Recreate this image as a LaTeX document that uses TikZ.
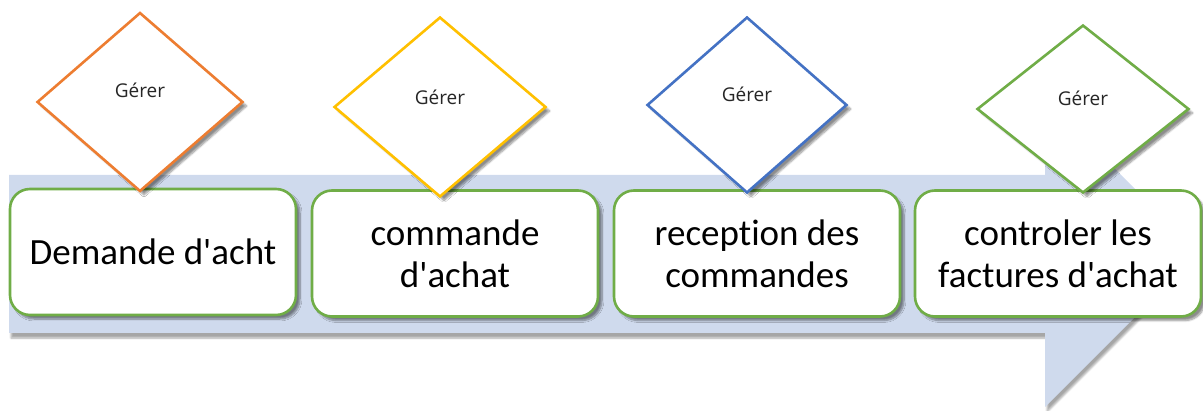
\documentclass[tikz,border=0pt]{standalone}
\usepackage{fontspec}
\setmainfont{Carlito}[Ligatures={CommonOff,TeXOff}]
\newfontfamily\gfont{Open Sans}
\usetikzlibrary{shapes.geometric,shadows.blur}
\definecolor{band}{HTML}{CFDAED}
\definecolor{gOrange}{HTML}{ED7D31}
\definecolor{gYellow}{HTML}{FFC000}
\definecolor{gBlue}{HTML}{4472C4}
\definecolor{gGreen}{HTML}{70AD47}
\tikzset{
  stepbox/.style={draw=gGreen, line width=2.6pt, fill=white, rounded corners=20pt,
    minimum width=286pt, minimum height=126pt, inner sep=0pt, align=center,
    font=\fontsize{37}{42}\selectfont,
    blur shadow={shadow xshift=4pt, shadow yshift=-4pt, shadow blur steps=8, shadow opacity=45}},
  gem/.style={draw=#1, line width=2.6pt, fill=white, shape=diamond, inner sep=0pt,
    blur shadow={shadow xshift=4pt, shadow yshift=-4pt, shadow blur steps=8, shadow opacity=45}},
  gtext/.style={font=\gfont\fontsize{19}{22}\selectfont, text=black!85, inner sep=0pt}
}
\begin{document}
\begin{tikzpicture}[x=1pt,y=-1pt]
\useasboundingbox (0,0) rectangle (1203,411);
% background arrow
\path[fill=band, blur shadow={shadow xshift=2pt, shadow yshift=-5pt, shadow blur steps=6, shadow opacity=35}]
  (9,175) -- (1045,175) -- (1045,99) -- (1199,253) -- (1045,407) -- (1045,333) -- (9,333) -- cycle;
% boxes
\node[stepbox] (b1) at (153,252) {Demande d'acht};
\node[stepbox] (b2) at (455,253.5) {commande\\d'achat};
\node[stepbox] (b3) at (757,253.5) {reception des\\commandes};
\node[stepbox] (b4) at (1058,253.5) {controler les\\factures d'achat};
% diamonds
\node[gem=gOrange, minimum width=206pt, minimum height=179pt] (d1) at (140,102) {};
\node[gem=gYellow, minimum width=212pt, minimum height=180pt] (d2) at (440,107) {};
\node[gem=gBlue, minimum width=200pt, minimum height=176pt] (d3) at (747,105) {};
\node[gem=gGreen, minimum width=212pt, minimum height=168pt] (d4) at (1083,109) {};
\node[gtext] (t1) at (140,90) {Gérer};
\node[gtext] (t2) at (440,97) {Gérer};
\node[gtext] (t3) at (747,94) {Gérer};
\node[gtext] (t4) at (1083,98) {Gérer};
\end{tikzpicture}
\end{document}
